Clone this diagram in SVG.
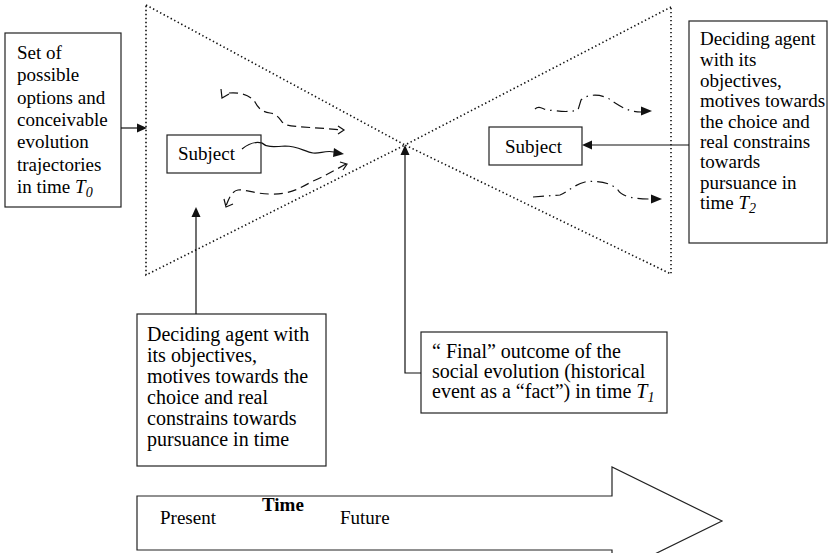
<svg xmlns="http://www.w3.org/2000/svg" width="829" height="553" viewBox="0 0 829 553">
<rect width="829" height="553" fill="#fff"/>

<g id="triangles" fill="none" stroke="#111" stroke-width="1.6" stroke-dasharray="1.4 2.6">
<path d="M146,5 L405,145 L146,275 Z"/>
<path d="M671,7 L405,145 L671,274 Z"/>
</g>

<g id="box-options">
<rect x="5" y="33" width="116" height="174" fill="#fff" stroke="#222" stroke-width="1.2"/>
<text x="17" y="59" font-family="Liberation Serif" font-size="19">Set of</text>
<text x="17" y="81" font-family="Liberation Serif" font-size="19">possible</text>
<text x="17" y="104" font-family="Liberation Serif" font-size="19">options and</text>
<text x="17" y="126" font-family="Liberation Serif" font-size="19">conceivable</text>
<text x="17" y="148" font-family="Liberation Serif" font-size="19">evolution</text>
<text x="17" y="171" font-family="Liberation Serif" font-size="19">trajectories</text>
<text x="17" y="193" font-family="Liberation Serif" font-size="19">in time <tspan font-style="italic">T</tspan><tspan font-style="italic" font-size="14" dy="4">0</tspan></text>
</g>

<g id="subject-left">
<rect x="167" y="135" width="94" height="38" fill="#fff" stroke="#222" stroke-width="1.2"/>
<text x="178" y="160" font-family="Liberation Serif" font-size="19">Subject</text>
</g>

<g id="subject-right">
<rect x="489" y="127" width="93" height="38" fill="#fff" stroke="#222" stroke-width="1.2"/>
<text x="505" y="153" font-family="Liberation Serif" font-size="19">Subject</text>
</g>

<g id="box-agent-t2">
<rect x="689" y="21" width="138" height="222" fill="#fff" stroke="#222" stroke-width="1.2"/>
<text x="700" y="45" font-family="Liberation Serif" font-size="19">Deciding agent</text>
<text x="700" y="66" font-family="Liberation Serif" font-size="19">with its</text>
<text x="700" y="87" font-family="Liberation Serif" font-size="19">objectives,</text>
<text x="700" y="107" font-family="Liberation Serif" font-size="19">motives towards</text>
<text x="700" y="128" font-family="Liberation Serif" font-size="19">the choice and</text>
<text x="700" y="148" font-family="Liberation Serif" font-size="19">real constrains</text>
<text x="700" y="168" font-family="Liberation Serif" font-size="19">towards</text>
<text x="700" y="189" font-family="Liberation Serif" font-size="19">pursuance in</text>
<text x="700" y="209" font-family="Liberation Serif" font-size="19">time <tspan font-style="italic">T</tspan><tspan font-style="italic" font-size="14" dy="4">2</tspan></text>
</g>

<g id="box-agent">
<rect x="137" y="314" width="189" height="152" fill="#fff" stroke="#222" stroke-width="1.2"/>
<text x="147" y="341" font-family="Liberation Serif" font-size="20">Deciding agent with</text>
<text x="147" y="362" font-family="Liberation Serif" font-size="20">its objectives,</text>
<text x="147" y="383" font-family="Liberation Serif" font-size="20">motives towards the</text>
<text x="147" y="404" font-family="Liberation Serif" font-size="20">choice and real</text>
<text x="147" y="425" font-family="Liberation Serif" font-size="20">constrains towards</text>
<text x="147" y="446" font-family="Liberation Serif" font-size="20">pursuance in time</text>
</g>

<g id="box-outcome">
<rect x="421" y="332" width="246" height="81" fill="#fff" stroke="#222" stroke-width="1.2"/>
<text x="432" y="358" font-family="Liberation Serif" font-size="20">&#8220; Final&#8221; outcome of the</text>
<text x="432" y="378" font-family="Liberation Serif" font-size="20">social evolution (historical</text>
<text x="432" y="398" font-family="Liberation Serif" font-size="20">event as a &#8220;fact&#8221;) in time <tspan font-style="italic">T</tspan><tspan font-style="italic" font-size="14" dy="4">1</tspan></text>
</g>

<g id="time-arrow">
<path d="M137,496 L612,496 L612,467 L722,521 L612,575 L612,550 L137,550 Z" fill="#fff" stroke="#222" stroke-width="1.2"/>
<text x="160" y="524" font-family="Liberation Serif" font-size="19">Present</text>
<text x="262" y="511" font-family="Liberation Serif" font-size="19" font-weight="bold">Time</text>
<text x="340" y="524" font-family="Liberation Serif" font-size="19">Future</text>
</g>

<g id="connectors" fill="none" stroke="#111" stroke-width="1.2">
<line x1="121" y1="128" x2="137" y2="128"/>
<polygon points="147,128 137,123.5 137,132.5" fill="#111" stroke="none"/>
<line x1="689" y1="145" x2="592" y2="145"/>
<polygon points="582,145 592,140.5 592,149.5" fill="#111" stroke="none"/>
<line x1="196" y1="314" x2="196" y2="217"/>
<polygon points="196,207 191.5,217 200.5,217" fill="#111" stroke="none"/>
<polyline points="421,373 405,373 405,155"/>
<polygon points="405,145 400.5,155 409.5,155" fill="#111" stroke="none"/>

<path stroke-dasharray="9 5" d="M229,93 C240,92 250,95 255,102 C258,108 262,112 270,113 C278,114 280,120 284,124 C290,127 310,127 343,130"/>
<polyline points="221,89 222,98 229,94"/>
<polyline points="338,126 344,130 338,134"/>

<path d="M242,149 C248,144 254,141 262,143 C266,147 272,147 285,146 C298,146 305,152 313,153 C320,154 325,150 334,152"/>
<polygon points="344,154 334,148 333,157" fill="#111" stroke="none"/>

<path stroke-dasharray="9 5" d="M346,164 C335,170 325,176 313,181 C300,188 290,195 270,194 C255,194 245,189 238,190 C232,191 229,198 226,206"/>
<polyline points="340,162 347,164 343,170"/>
<polyline points="224,199 226,207 233,204"/>

<path stroke-dasharray="11 5 1.5 5" d="M535,109 C540,104 545,112 552,110 C562,112 570,112 578,110 L581,100 C590,92 605,95 612,101 C620,106 628,112 641,112"/>
<polygon points="652,111 641,106.5 641,115.5" fill="#111" stroke="none"/>
<path stroke-dasharray="11 5 1.5 5" d="M533,197 L560,195 C568,192 575,184 585,182 C598,180 612,183 618,190 C622,197 635,199 651,199"/>
<polygon points="662,199 651,194.5 651,203.5" fill="#111" stroke="none"/>
</g>
</svg>
